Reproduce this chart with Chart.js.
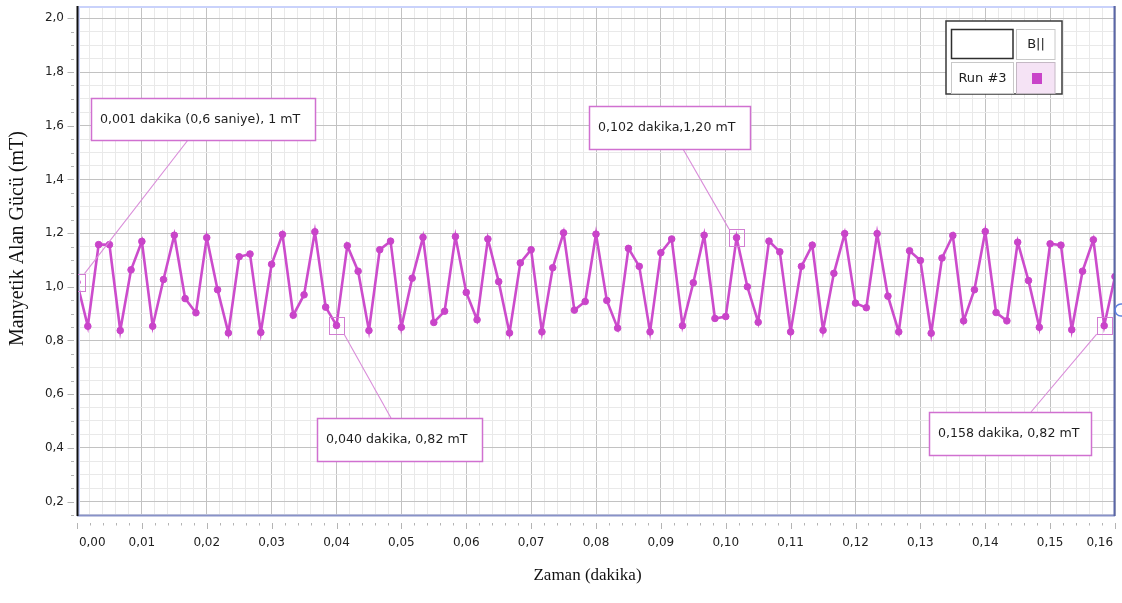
<!DOCTYPE html>
<html><head><meta charset="utf-8">
<script src="https://cdn.jsdelivr.net/npm/chart.js@4.4.1/dist/chart.umd.min.js"></script>
<style>html,body{margin:0;padding:0;background:#fff;overflow:hidden}canvas{display:block}</style>
</head><body>
<canvas id="c" width="1122" height="603"></canvas>
<script>
// ---- data ----
const timeSec = [
 0.0,0.1,0.2,0.3,0.4,0.5,0.6,0.7,0.8,0.9,
 1.0,1.1,1.2,1.3,1.4,1.5,1.6,1.7,1.8,1.9,
 2.0,2.1,2.2,2.3,2.4,2.5,2.6,2.7,2.8,2.9,
 3.0,3.1,3.2,3.3,3.4,3.5,3.6,3.7,3.8,3.9,
 4.0,4.1,4.2,4.3,4.4,4.5,4.6,4.7,4.8,4.9,
 5.0,5.1,5.2,5.3,5.4,5.5,5.6,5.7,5.8,5.9,
 6.0,6.1,6.2,6.3,6.4,6.5,6.6,6.7,6.8,6.9,
 7.0,7.1,7.2,7.3,7.4,7.5,7.6,7.7,7.8,7.9,
 8.0,8.1,8.2,8.3,8.4,8.5,8.6,8.7,8.8,8.9,
 9.0,9.1,9.2,9.3,9.4,9.5,9.6];
const fieldMT = [
 1.017,0.853,1.157,1.157,0.837,1.063,1.169,0.853,1.027,1.192,
 0.956,0.903,1.183,0.989,0.828,1.112,1.122,0.830,1.084,1.195,
 0.894,0.970,1.205,0.924,0.856,1.153,1.058,0.837,1.138,1.170,
 0.849,1.032,1.184,0.867,0.909,1.187,0.979,0.877,1.178,1.019,
 0.828,1.089,1.138,0.832,1.071,1.201,0.913,0.945,1.196,0.949,
 0.846,1.143,1.076,0.832,1.127,1.178,0.855,1.015,1.192,0.882,
 0.889,1.183,1.000,0.868,1.170,1.130,0.832,1.076,1.155,0.838,
 1.050,1.198,0.939,0.922,1.198,0.965,0.832,1.134,1.098,0.827,
 1.107,1.191,0.873,0.989,1.206,0.904,0.873,1.166,1.023,0.849,
 1.160,1.155,0.840,1.058,1.175,0.855,1.038];
const seriesLabel = 'Run #3';
const legendHeader = 'B||';
const xMajorTicks = [0,0.01,0.02,0.03,0.04,0.05,0.06,0.07,0.08,0.09,0.10,0.11,0.12,0.13,0.14,0.15,0.16];
const xTickLabels = ['0,00','0,01','0,02','0,03','0,04','0,05','0,06','0,07','0,08','0,09','0,10','0,11','0,12','0,13','0,14','0,15','0,16'];
const yMajorTicks = [0.2,0.4,0.6,0.8,1.0,1.2,1.4,1.6,1.8,2.0];
const yTickLabels = ['0,2','0,4','0,6','0,8','1,0','1,2','1,4','1,6','1,8','2,0'];
const xTitle = 'Zaman (dakika)';
const yTitle = 'Manyetik Alan Gücü (mT)';
const callouts = [
 {text:'0,001 dakika (0,6 saniye), 1 mT', index:0,  box:[91,98,224,42],  from:[188,140], corner:'tr'},
 {text:'0,102 dakika,1,20 mT',            index:61, box:[589,106,161,43], from:[683,149], corner:'tl'},
 {text:'0,040 dakika, 0,82 mT',           index:24, box:[317,418,165,43], from:[391,418], corner:'br'},
 {text:'0,158 dakika, 0,82 mT',           index:95, box:[929,412,162,43], from:[1031,412], corner:'bl'}
];

// ---- axis setup ----
const X_MIN = 0, X_MAX = 0.16, Y_MIN = 0.146, Y_MAX = 2.046;
const X_MINOR = 0.002, Y_MINOR = 0.05;
function buildTicks(min, max, step){
  const out = [];
  const n0 = Math.ceil(min/step - 1e-9), n1 = Math.floor(max/step + 1e-9);
  for (let k = n0; k <= n1; k++) out.push(+(k*step).toFixed(6));
  return out;
}
const xAllTicks = buildTicks(X_MIN, X_MAX, X_MINOR);
const yAllTicks = buildTicks(Y_MIN, Y_MAX, Y_MINOR);
function majorIndex(arr, v){
  for (let i = 0; i < arr.length; i++) if (Math.abs(arr[i]-v) < 1e-7) return i;
  return -1;
}
const MAJOR_GRID = '#c2c2c2', MINOR_GRID = '#e9e9e9';
const LINE_COLOR = '#cc4ccc', POINT_COLOR = '#c944c9';

const decor = {
  id: 'decor',
  afterDatasetsDraw(chart){
    const ctx = chart.ctx;
    const {left, top, right, bottom} = chart.chartArea;
    const xs = chart.scales.x, ys = chart.scales.y;
    ctx.save();
    // plot frame
    ctx.lineWidth = 2;
    ctx.strokeStyle = '#c9d2fb';
    ctx.beginPath(); ctx.moveTo(left, top+1); ctx.lineTo(right, top+1); ctx.stroke();
    ctx.beginPath(); ctx.moveTo(left+2, top); ctx.lineTo(left+2, bottom); ctx.stroke();
    ctx.strokeStyle = '#8892c8';
    ctx.beginPath(); ctx.moveTo(left, bottom-0.5); ctx.lineTo(right, bottom-0.5); ctx.stroke();
    ctx.strokeStyle = '#5a66a8';
    ctx.beginPath(); ctx.moveTo(right-0.5, top); ctx.lineTo(right-0.5, bottom); ctx.stroke();
    ctx.strokeStyle = '#111';
    ctx.beginPath(); ctx.moveTo(left+0.5, top); ctx.lineTo(left+0.5, bottom); ctx.stroke();
    // tick marks (outside, with a gap, as in reference)
    ctx.lineWidth = 1;
    ctx.strokeStyle = '#b4b4b4';
    xAllTicks.forEach(v => {
      const px = Math.round(xs.getPixelForValue(v)) + 0.5;
      const maj = majorIndex(xMajorTicks, v) >= 0;
      ctx.beginPath(); ctx.moveTo(px, bottom+7); ctx.lineTo(px, bottom + (maj ? 13 : 9.5)); ctx.stroke();
    });
    yAllTicks.forEach(v => {
      const py = Math.round(ys.getPixelForValue(v)) + 0.5;
      const maj = majorIndex(yMajorTicks, v) >= 0;
      ctx.beginPath(); ctx.moveTo(left-3, py); ctx.lineTo(left - (maj ? 9.5 : 6), py); ctx.stroke();
    });
    // callouts
    const meta = chart.getDatasetMeta(0);
    ctx.font = '12.6px "DejaVu Sans"';
    ctx.textBaseline = 'middle';
    ctx.textAlign = 'left';
    callouts.forEach(c => {
      const el = meta.data[c.index];
      const w = 15, h = 17;
      const rx = el.x - w/2, ry = el.y - h/2;
      const cx = c.corner[1] === 'l' ? rx : rx + w;
      const cy = c.corner[0] === 't' ? ry : ry + h;
      ctx.save();
      ctx.beginPath(); ctx.rect(left+1, top, right-left-1, bottom-top); ctx.clip();
      ctx.strokeStyle = '#d27ed2'; ctx.lineWidth = 1;
      ctx.strokeRect(Math.round(rx)+0.5, Math.round(ry)+0.5, w, h);
      ctx.restore();
      ctx.strokeStyle = '#d98cd9'; ctx.lineWidth = 1.1;
      ctx.beginPath(); ctx.moveTo(c.from[0], c.from[1]); ctx.lineTo(cx, cy); ctx.stroke();
      const [bx, by, bw, bh] = c.box;
      ctx.fillStyle = '#fff';
      ctx.fillRect(bx, by, bw, bh);
      ctx.strokeStyle = '#d070d0'; ctx.lineWidth = 1.5;
      ctx.strokeRect(bx+0.5, by+0.5, bw, bh);
      ctx.fillStyle = '#1e1e1e';
      ctx.fillText(c.text, bx + 9, by + bh/2 + 0.5);
    });
    // legend table
    ctx.fillStyle = '#fff';
    ctx.fillRect(946, 21, 116, 73);
    ctx.strokeStyle = '#3a3a3a'; ctx.lineWidth = 1.5;
    ctx.strokeRect(946, 21, 116, 73);
    ctx.strokeStyle = '#2e2e2e'; ctx.lineWidth = 1.5;
    ctx.strokeRect(951.5, 29.5, 61.5, 29);
    ctx.strokeStyle = '#c8c8c8'; ctx.lineWidth = 1;
    ctx.strokeRect(1016.5, 29.5, 38.5, 30);
    ctx.strokeRect(951.5, 62.5, 62, 31);
    ctx.fillStyle = '#f5e3f5';
    ctx.fillRect(1017, 63, 38, 30);
    ctx.strokeStyle = '#c4b8c4';
    ctx.strokeRect(1016.5, 62.5, 38.5, 31);
    ctx.fillStyle = POINT_COLOR;
    ctx.fillRect(1032, 73, 10, 11);
    ctx.fillStyle = '#222';
    ctx.font = '13px "DejaVu Sans"';
    ctx.textAlign = 'center';
    ctx.fillText(legendHeader, 1036, 45);
    ctx.fillText(seriesLabel, 982.5, 78.5);
    // small handle at right edge
    ctx.strokeStyle = '#5b80e0'; ctx.lineWidth = 1.5;
    ctx.beginPath(); ctx.arc(1121, 310, 6, 0, Math.PI*2); ctx.stroke();
    ctx.restore();
  }
};

new Chart(document.getElementById('c'), {
  type: 'line',
  data: {
    datasets: [{
      label: seriesLabel,
      data: timeSec.map((t, i) => ({x: t/60, y: fieldMT[i]})),
      borderColor: LINE_COLOR,
      backgroundColor: POINT_COLOR,
      pointBackgroundColor: POINT_COLOR,
      pointBorderColor: POINT_COLOR,
      pointRadius: 3.3,
      pointBorderWidth: 1,
      borderWidth: 2.6,
      tension: 0,
      fill: false
    }]
  },
  options: {
    responsive: false,
    devicePixelRatio: 1,
    animation: false,
    events: [],
    layout: {padding: {left: 0, right: 7, top: 6, bottom: 0}},
    plugins: {legend: {display: false}, tooltip: {enabled: false}},
    scales: {
      x: {
        type: 'linear', position: 'bottom', min: X_MIN, max: X_MAX,
        afterBuildTicks: s => { s.ticks = xAllTicks.map(v => ({value: v})); },
        afterFit: s => { s.height = 87; s.paddingLeft = 0; s.paddingRight = 0; },
        grid: {
          color: c => (c.tick && majorIndex(xMajorTicks, c.tick.value) >= 0) ? MAJOR_GRID : MINOR_GRID,
          lineWidth: 1, drawTicks: false
        },
        border: {display: false},
        ticks: {
          autoSkip: false, maxRotation: 0, minRotation: 0, padding: 20,
          font: {family: 'DejaVu Sans', size: 12}, color: '#222',
          callback: v => {
            const i = majorIndex(xMajorTicks, v);
            if (i < 0) return '';
            if (i === 0) return '        ' + xTickLabels[i];
            if (i === xMajorTicks.length - 1) return xTickLabels[i] + '        ';
            return xTickLabels[i];
          }
        },
        title: {display: true, text: xTitle + '    ', color: '#111',
          font: {family: 'Liberation Serif', size: 17}, padding: {top: 0, bottom: 17}}
      },
      y: {
        type: 'linear', position: 'left', min: Y_MIN, max: Y_MAX,
        afterBuildTicks: s => { s.ticks = yAllTicks.map(v => ({value: v})); },
        afterFit: s => { s.width = 77; s.paddingTop = 0; s.paddingBottom = 0; },
        grid: {
          color: c => (c.tick && majorIndex(yMajorTicks, c.tick.value) >= 0) ? MAJOR_GRID : MINOR_GRID,
          lineWidth: 1, drawTicks: false
        },
        border: {display: false},
        ticks: {
          autoSkip: false, padding: 13,
          font: {family: 'DejaVu Sans', size: 12}, color: '#222',
          callback: v => { const i = majorIndex(yMajorTicks, v); return i < 0 ? '' : yTickLabels[i]; }
        },
        title: {display: true, text: '         ' + yTitle, color: '#111',
          font: {family: 'Liberation Serif', size: 20}, padding: {top: 6, bottom: 0}}
      }
    }
  },
  plugins: [decor]
});
</script>
</body></html>
